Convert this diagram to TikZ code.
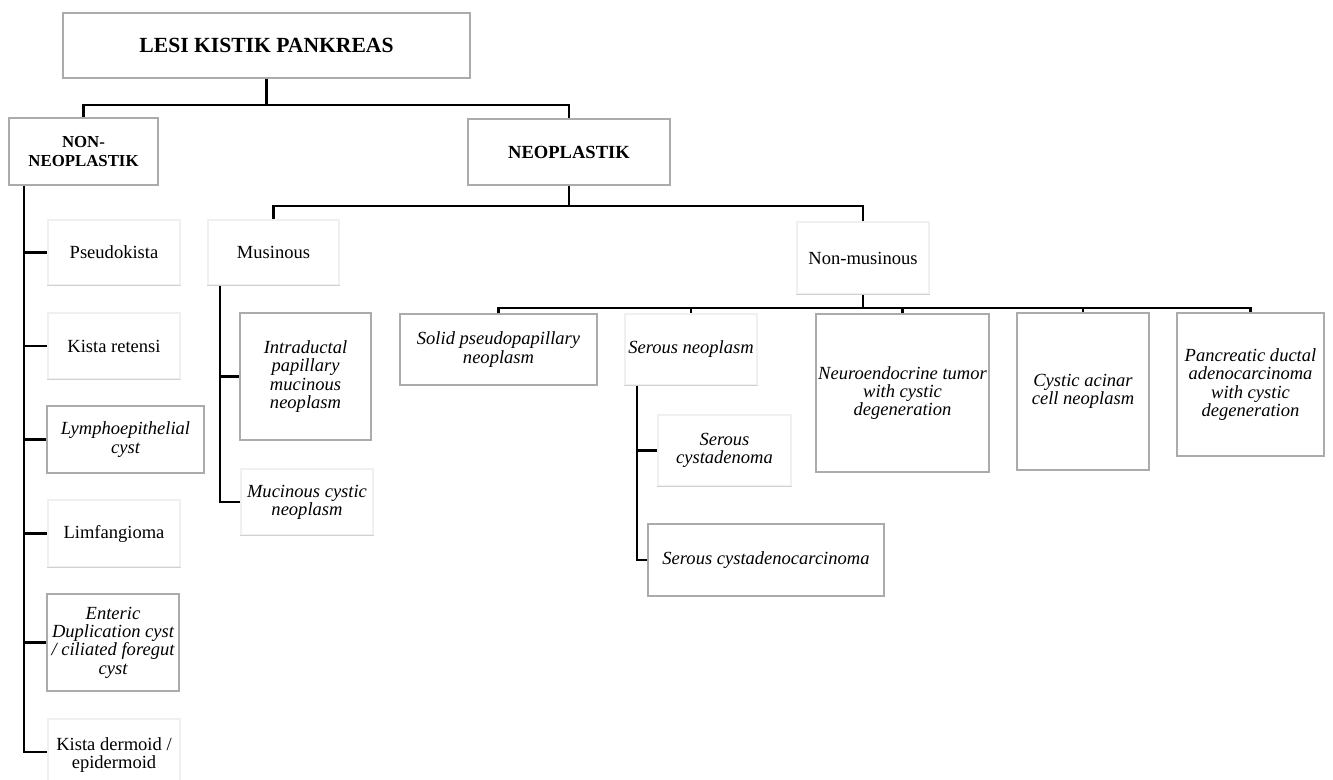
\documentclass[tikz,border=0pt]{standalone}
\usepackage{fontspec}
\setmainfont{Liberation Serif}
\usetikzlibrary{fit}
\begin{document}
\begin{tikzpicture}[x=0.75pt,y=-0.75pt,
  every node/.style={inner sep=0pt, align=center, font=\fontsize{13.9}{13.7}\selectfont},
  gbox/.style={draw=black!33, line width=1.1pt, fill=white},
  fbox/.style={draw=black!6, line width=0.9pt, fill=white},
  bold/.style={font=\fontsize{13.9}{13.7}\selectfont\bfseries},
  ital/.style={font=\fontsize{13.9}{13.7}\selectfont\itshape},
  conn/.style={line width=2pt, black}]
\useasboundingbox (0,0) rectangle (1333,780);

% boxes
\node[gbox, fit={(63,13) (470,78)}] (lesi) {};
\node[gbox, fit={(9,118) (158,185)}] (non) {};
\node[gbox, fit={(468,119) (670,185)}] (neo) {};
\node[fbox, fit={(48,220) (180,285)}] (ps) {};
\node[fbox, fit={(48,313) (180,379)}] (kr) {};
\node[gbox, fit={(47,406) (204,473)}] (ly) {};
\node[fbox, fit={(48,500) (180,567)}] (lf) {};
\node[gbox, fit={(47,594) (179,691)}] (en) {};
\node[fbox, fit={(48,719) (180,785)}] (kd) {};
\node[fbox, fit={(208,220) (339,285)}] (mus) {};
\node[gbox, fit={(240,313) (371,440)}] (ipmn) {};
\node[fbox, fit={(241,469) (373,535)}] (mcn) {};
\node[fbox, fit={(797,222) (929,294)}] (nonmus) {};
\node[gbox, fit={(400,314) (597,385)}] (sp) {};
\node[fbox, fit={(625,314) (757,385)}] (sn) {};
\node[fbox, fit={(658,415) (791,486)}] (sc) {};
\node[gbox, fit={(648,524) (884,596)}] (scc) {};
\node[gbox, fit={(816,314) (989,472)}] (net) {};
\node[gbox, fit={(1017,313) (1149,470)}] (can) {};
\node[gbox, fit={(1177,313) (1324,456)}] (pdac) {};

% faint box bottom shades
\foreach \n in {ps,kr,lf,mus,mcn,nonmus,sn,sc}
  \draw[black!18, line width=1pt] (\n.south west) -- (\n.south east);

% texts
\node[font=\fontsize{16.2}{16}\selectfont\bfseries] (tlesi) at (lesi) {LESI KISTIK PANKREAS};
\node[font=\fontsize{12.6}{13.7}\selectfont\bfseries] (tnon) at (non) {NON-\\NEOPLASTIK};
\node[bold] (tneo) at (neo) {NEOPLASTIK};
\node (tps) at (ps) {Pseudokista};
\node (tkr) at (kr) {Kista retensi};
\node[ital] (tly) at (ly) {Lymphoepithelial\\cyst};
\node (tlf) at (lf) {Limfangioma};
\node[ital] (ten) at (en) {Enteric\\Duplication cyst\\/ ciliated foregut\\cyst};
\node (tkd) at ([yshift=-2.5pt]kd.center) {Kista dermoid /\\epidermoid};
\node (tmus) at (mus) {Musinous};
\node[ital] (tipmn) at (ipmn) {Intraductal\\papillary\\mucinous\\neoplasm};
\node[ital] (tmcn) at (mcn) {Mucinous cystic\\neoplasm};
\node (tnonmus) at (nonmus) {Non-musinous};
\node[ital] (tsp) at (sp) {Solid pseudopapillary\\neoplasm};
\node[ital] (tsn) at (sn) {Serous neoplasm};
\node[ital] (tsc) at (sc) {Serous\\cystadenoma};
\node[ital] (tscc) at (scc) {Serous cystadenocarcinoma};
\node[ital] (tnet) at (net) {Neuroendocrine tumor\\with cystic\\degeneration};
\node[ital] (tcan) at (can) {Cystic acinar\\cell neoplasm};
\node[ital] (tpdac) at (pdac) {Pancreatic ductal\\adenocarcinoma\\with cystic\\degeneration};

% bus coordinates
\coordinate (bus1) at (0,105);
\coordinate (bus2) at (0,206);
\coordinate (bus3) at (0,308);
\coordinate (lv) at (24,0);
\coordinate (mv) at (220,0);
\coordinate (sv) at (637,0);

% connectors
\draw[conn] (lesi.south) -- (lesi.south |- bus1);
\draw[conn] (non.north) -- (non.north |- bus1) -| (neo.north);

\draw[conn] (non.south -| lv) -- (lv |- kd.west) -- (kd.west);
\foreach \n in {ps,kr,ly,lf,en}
  \draw[conn] (lv |- \n.west) -- (\n.west);

\draw[conn] (neo.south) -- (neo.south |- bus2);
\draw[conn] (mus.north) -- (mus.north |- bus2) -| (nonmus.north);

\draw[conn] (mus.south -| mv) -- (mv |- mcn.west) -- (mcn.west);
\draw[conn] (mv |- ipmn.west) -- (ipmn.west);

\draw[conn] (nonmus.south) -- (nonmus.south |- bus3);
\draw[conn] (sp.north) -- (sp.north |- bus3) -| (pdac.north);
\foreach \n in {sn,net,can}
  \draw[conn] (\n.north |- bus3) -- (\n.north);

\draw[conn] (sn.south -| sv) -- (sv |- scc.west) -- (scc.west);
\draw[conn] (sv |- sc.west) -- (sc.west);
\end{tikzpicture}
\end{document}
